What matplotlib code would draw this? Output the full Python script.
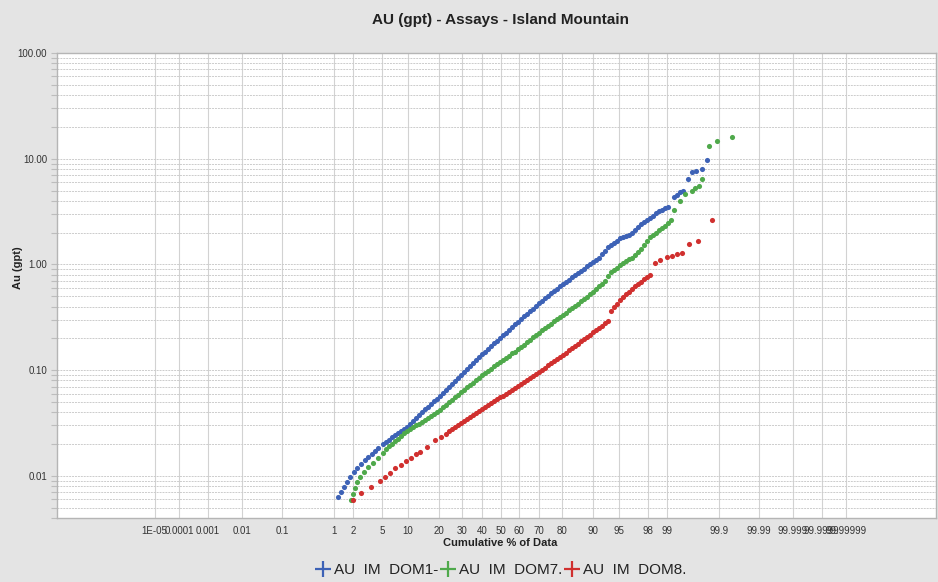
import numpy as np
import matplotlib as mpl
mpl.use('Agg')
import matplotlib.pyplot as plt
from matplotlib.lines import Line2D
from matplotlib.ticker import FixedLocator, NullLocator, LogLocator, NullFormatter
from statistics import NormalDist

plt.rcParams['font.family'] = ['Liberation Sans', 'DejaVu Sans']

title = 'AU (gpt) - Assays - Island Mountain'
series_names = ['AU  IM  DOM1-', 'AU  IM  DOM7.', 'AU  IM  DOM8.']
series_colors = ['#3d62b6', '#4fa94b', '#d0302f']

x_ticks = [1e-05, 0.0001, 0.001, 0.01, 0.1, 1, 2, 5, 10, 20, 30, 40, 50, 60, 70,
           80, 90, 95, 98, 99, 99.9, 99.99, 99.999, 99.9999, 99.99999]
x_ticklabels = ['1E-05', '0.0001', '0.001', '0.01', '0.1', '1', '2', '5', '10', '20',
                '30', '40', '50', '60', '70', '80', '90', '95', '98', '99', '99.9',
                '99.99', '99.999', '99.9999', '99.99999']
y_ticks = [0.01, 0.1, 1, 10, 100]
y_ticklabels = ['0.01', '0.10', '1.00', '10.00', '100.00']

# DOM1 (blue) - cumulative % and Au (gpt)
dom1_pct = [1.17, 1.30, 1.46, 1.62, 1.81, 2.07, 2.30, 2.63, 2.99, 3.29, 3.73, 4.09, 4.47,
            5.18, 5.64, 6.14, 6.67, 7.23, 7.83, 8.46, 9.13, 9.83, 10.58,
            11.36, 12.19, 13.05, 13.96, 14.90, 15.89, 16.92, 17.99, 19.10, 20.25,
            21.44, 22.67, 23.93, 25.24, 26.57, 27.95, 29.35, 30.79, 32.26, 33.75,
            35.28, 36.82, 38.38, 39.97, 41.57, 43.18, 44.81, 46.44, 48.08, 49.72,
            51.37, 53.01, 54.65, 56.28, 57.90, 59.50, 61.09, 62.66, 64.22, 65.74,
            67.25, 68.72, 70.17, 71.59, 72.97, 74.33, 75.64, 76.92, 78.16, 79.36,
            80.53, 81.65, 82.73, 83.77, 84.78, 85.74, 86.65, 87.53, 88.37, 89.17,
            89.92, 90.64, 91.32, 91.97, 92.58, 93.15, 93.69, 94.19, 94.67, 95.11,
            95.53, 95.91, 96.27, 96.60, 96.91, 97.20, 97.46, 97.70, 97.93, 98.13,
            98.32, 98.49, 98.65, 98.79, 98.92, 99.04,
            99.24, 99.32, 99.40, 99.47, 99.57, 99.64, 99.71, 99.77, 99.82]
dom1_au = [0.0063, 0.0071, 0.0079, 0.0088, 0.0098, 0.0109, 0.0119, 0.0130, 0.0142, 0.0151, 0.0161, 0.0172, 0.0184,
           0.0200, 0.0210, 0.0221, 0.0232, 0.0244, 0.0255, 0.0266, 0.0278, 0.0291, 0.0310,
           0.0331, 0.0354, 0.0377, 0.0401, 0.0426, 0.0451, 0.0479, 0.0508, 0.0538, 0.0571,
           0.0609, 0.0651, 0.0694, 0.0741, 0.0791, 0.0845, 0.0902, 0.0963, 0.103, 0.110,
           0.117, 0.125, 0.133, 0.142, 0.150, 0.160, 0.169, 0.179, 0.190, 0.202,
           0.214, 0.227, 0.241, 0.255, 0.271, 0.287, 0.305, 0.322, 0.341, 0.361,
           0.382, 0.404, 0.428, 0.453, 0.479, 0.507, 0.534, 0.562, 0.589, 0.619,
           0.650, 0.683, 0.717, 0.753, 0.790, 0.829, 0.870, 0.913, 0.957, 1.00,
           1.05, 1.11, 1.16, 1.25, 1.35, 1.45, 1.53, 1.60, 1.68, 1.78,
           1.80, 1.85, 1.89, 1.97, 2.12, 2.26, 2.40, 2.51, 2.63, 2.75,
           2.86, 3.04, 3.18, 3.30, 3.42, 3.47,
           4.35, 4.54, 4.85, 4.95, 6.43, 7.49, 7.66, 8.00, 9.73]

# DOM7 (green)
dom7_pct = [1.87, 2.00, 2.15, 2.30, 2.54, 2.90, 3.29, 3.85, 4.47, 5.18,
            5.64, 6.14, 6.67, 7.23, 7.83, 8.46, 9.13, 9.83, 10.58, 11.36,
            12.19, 13.05, 13.96, 14.90, 15.89, 16.92, 17.99, 19.10, 20.25, 21.44,
            22.67, 23.93, 25.24, 26.57, 27.95, 29.35, 30.79, 32.26, 33.75, 35.28,
            36.82, 38.38, 39.97, 41.57, 43.18, 44.81, 46.44, 48.08, 49.72, 51.37,
            53.01, 54.65, 56.28, 57.90, 59.50, 61.09, 62.66, 64.22, 65.74, 67.25,
            68.72, 70.17, 71.59, 72.97, 74.33, 75.64, 76.92, 78.16, 79.36, 80.53,
            81.65, 82.73, 83.77, 84.78, 85.74, 86.65, 87.53, 88.37, 89.17, 89.92,
            90.64, 91.32, 91.97, 92.58, 93.15, 93.69, 94.19, 94.67, 95.11, 95.53,
            95.91, 96.27, 96.60, 96.91, 97.20, 97.46, 97.70, 97.93, 98.13, 98.32,
            98.49, 98.65, 98.79, 98.92, 99.04, 99.14,
            99.24, 99.40, 99.53, 99.64, 99.69, 99.74, 99.78, 99.84, 99.89, 99.95]
dom7_au = [0.0059, 0.0068, 0.0077, 0.0088, 0.0098, 0.0109, 0.0122, 0.0133, 0.0148, 0.0165,
           0.0179, 0.0191, 0.0202, 0.0213, 0.0225, 0.0238, 0.0252, 0.0266, 0.0277, 0.0289,
           0.0300, 0.0313, 0.0326, 0.0340, 0.0355, 0.0370, 0.0387, 0.0404, 0.0421, 0.0444,
           0.0470, 0.0497, 0.0525, 0.0555, 0.0587, 0.0620, 0.0653, 0.0688, 0.0725, 0.0764,
           0.0805, 0.0848, 0.0892, 0.0936, 0.0984, 0.103, 0.109, 0.114, 0.120, 0.125,
           0.131, 0.137, 0.144, 0.150, 0.157, 0.165, 0.174, 0.183, 0.193, 0.204,
           0.215, 0.226, 0.238, 0.249, 0.262, 0.275, 0.289, 0.303, 0.319, 0.335,
           0.351, 0.369, 0.387, 0.406, 0.426, 0.448, 0.470, 0.493, 0.523, 0.553,
           0.587, 0.622, 0.658, 0.698, 0.778, 0.846, 0.889, 0.935, 0.983, 1.03,
           1.07, 1.12, 1.16, 1.23, 1.31, 1.41, 1.54, 1.68, 1.81, 1.91,
           2.00, 2.11, 2.22, 2.33, 2.47, 2.64,
           3.28, 3.99, 4.64, 4.95, 5.29, 5.52, 6.43, 13.2, 14.7, 16.1]

# DOM8 (red)
dom8_pct = [2.00, 2.59, 3.62, 4.75, 5.48, 6.32, 7.23, 8.46, 9.60, 10.84,
            12.19, 13.35, 15.56, 18.36, 20.65,
            22.67, 23.93, 25.24, 26.57, 27.95, 29.35, 30.79, 32.26, 33.75, 35.28,
            36.82, 38.38, 39.97, 41.57, 43.18, 44.81, 46.44, 48.08, 49.72, 51.37,
            53.01, 54.65, 56.28, 57.90, 59.50, 61.09, 62.66, 64.22, 65.74, 67.25,
            68.72, 70.17, 71.59, 72.97, 74.33, 75.64, 76.92, 78.16, 79.36, 80.53,
            81.65, 82.73, 83.77, 84.78, 85.74, 86.65, 87.53, 88.37, 89.17, 89.92,
            90.64, 91.32, 91.97, 92.58, 93.15, 93.69, 94.19, 94.67, 95.11, 95.53,
            95.91, 96.27, 96.60, 96.91, 97.20, 97.46, 97.70, 97.93, 98.13,
            98.43, 98.70, 99.00, 99.17, 99.32, 99.45, 99.59, 99.73, 99.86]
dom8_au = [0.0059, 0.0069, 0.0079, 0.0090, 0.0098, 0.0107, 0.0119, 0.0127, 0.0139, 0.0148,
           0.0161, 0.0169, 0.0188, 0.0219, 0.0234,
           0.0250, 0.0266, 0.0280, 0.0293, 0.0306, 0.0319, 0.0333, 0.0348, 0.0364, 0.0380,
           0.0397, 0.0414, 0.0432, 0.0450, 0.0469, 0.0489, 0.0509, 0.0530, 0.0553, 0.0576,
           0.0599, 0.0624, 0.0651, 0.0678, 0.0705, 0.0737, 0.0771, 0.0807, 0.0845, 0.0884,
           0.0926, 0.0969, 0.101, 0.106, 0.111, 0.116, 0.122, 0.128, 0.134, 0.140,
           0.147, 0.154, 0.162, 0.170, 0.178, 0.187, 0.197, 0.206, 0.217, 0.228,
           0.240, 0.252, 0.264, 0.277, 0.290, 0.365, 0.394, 0.425, 0.459, 0.492,
           0.522, 0.554, 0.588, 0.621, 0.654, 0.689, 0.726, 0.763, 0.803,
           1.03, 1.10, 1.18, 1.20, 1.26, 1.28, 1.56, 1.67, 2.64]

# probability axis: normal quantiles, a bit compressed in the far tails
nd = NormalDist()
squeeze = 0.0032
_ppf = np.vectorize(nd.inv_cdf, otypes=[float])
_cdf = np.vectorize(nd.cdf, otypes=[float])
z_grid = np.linspace(-9.5, 9.5, 3801)
g_grid = z_grid - squeeze * z_grid ** 3


def prob_fwd(pct):
    p = np.clip(np.asarray(pct, dtype=float) / 100.0, 1e-15, 1 - 1e-15)
    z = _ppf(p)
    return z - squeeze * z ** 3


def prob_inv(g):
    z = np.interp(np.asarray(g, dtype=float), g_grid, z_grid)
    return _cdf(z) * 100.0


fig = plt.figure(figsize=(9.38, 5.82), dpi=100)
fig.patch.set_facecolor('#e4e4e4')
ax = fig.add_axes([57 / 938, 1 - 518 / 582, 879 / 938, 465 / 582])
ax.set_facecolor('white')

ax.set_xscale('function', functions=(prob_fwd, prob_inv))
ax.set_yscale('log')

series = [(dom1_pct, dom1_au), (dom7_pct, dom7_au), (dom8_pct, dom8_au)]
for (px, au), c in zip(series, series_colors):
    ax.plot(px, au, ls='none', marker='o', ms=3.7, mfc=c, mec='none', zorder=3)

ax.set_xlim(float(prob_inv(-6.092)), float(prob_inv(5.982)))
ax.set_ylim(0.004, 100)

ax.xaxis.set_major_locator(FixedLocator(x_ticks))
ax.xaxis.set_minor_locator(NullLocator())
ax.set_xticklabels(x_ticklabels)
ax.set_yticks(y_ticks)
ax.set_yticklabels(y_ticklabels)
ax.yaxis.set_minor_locator(LogLocator(base=10, subs=np.arange(2, 10)))
ax.yaxis.set_minor_formatter(NullFormatter())

ax.tick_params(axis='x', length=0, pad=6, labelsize=7, labelcolor='#333333')
ax.tick_params(axis='y', which='both', length=4, width=0.8, color='#bdbdbd',
               pad=3, labelsize=7, labelcolor='#333333')

ax.grid(True, axis='x', which='major', color='#d2d2d2', lw=0.8)
ax.grid(True, axis='y', which='both', color='#cccccc', lw=0.7, ls=(0, (2, 1)))
ax.set_axisbelow(True)
for s in ax.spines.values():
    s.set_color('#b5b5b5')
    s.set_linewidth(1.0)

fig.text(500 / 938, 1 - 20 / 582, title, ha='center', va='center',
         fontsize=11, fontweight='bold', color='#222222',
         family=['Liberation Sans Narrow', 'Liberation Sans'])
fig.text(18 / 938, 1 - 268 / 582, 'Au (gpt)', rotation=90, ha='center', va='center',
         fontsize=8, fontweight='bold', color='#222222')
fig.text(500 / 938, 1 - 543 / 582, 'Cumulative % of Data', ha='center', va='center',
         fontsize=8, fontweight='bold', color='#222222')

handles = [Line2D([], [], ls='none', marker='+', ms=12, mew=1.6, color=c)
           for c in series_colors]
leg = fig.legend(handles, series_names, loc='center', ncol=3,
                 bbox_to_anchor=(501 / 938, 1 - 570 / 582), frameon=False,
                 fontsize=11, handlelength=1.0, handletextpad=0.25,
                 columnspacing=0.1, borderpad=0)
for t in leg.get_texts():
    t.set_color('#222222')

fig.savefig('out.png', dpi=100, facecolor=fig.get_facecolor())
